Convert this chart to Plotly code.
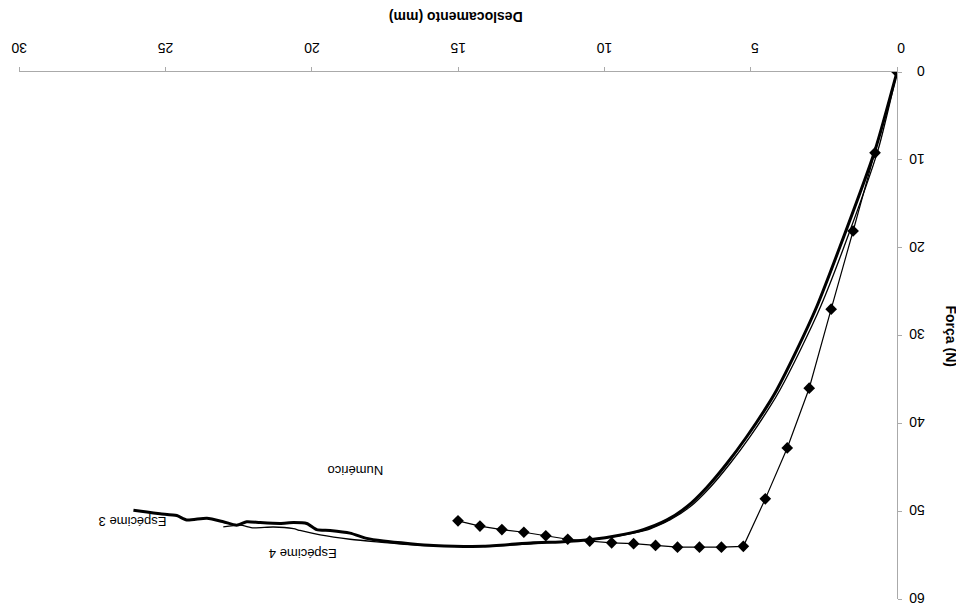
import plotly.graph_objects as go

# Numérico (model) series
num_x = [0, 0.75, 1.5, 2.25, 3.0, 3.75, 4.5, 5.25, 6.0, 6.75, 7.5, 8.25, 9.0,
         9.75, 10.5, 11.25, 12.0, 12.75, 13.5, 14.25, 15.0]
num_y = [0, 9.2, 18.1, 27.0, 36.0, 42.8, 48.6, 54.0, 54.1, 54.1, 54.1, 53.9, 53.7,
         53.6, 53.4, 53.2, 52.8, 52.4, 52.1, 51.7, 51.1]

# Espécime 3 (thick)
e3_x = [0, 0.75, 1.95, 2.74, 3.43, 4.11, 4.45, 5.13, 5.82, 6.50, 7.18, 7.86, 8.67,
        9.58, 10.38, 11.51, 12.43, 14.13, 15.84, 16.64, 17.55, 18.12, 18.69, 19.37,
        19.83, 20.17, 20.62, 21.08, 21.76, 22.22, 22.56, 23.02, 23.58, 24.27, 24.61,
        25.18, 25.63, 26.09]
e3_y = [0, 8.9, 19.9, 26.7, 31.7, 36.2, 38.1, 41.5, 44.6, 47.3, 49.5, 51.0, 52.1,
        52.8, 53.2, 53.5, 53.6, 54.0, 53.9, 53.7, 53.4, 53.1, 52.5, 52.2,
        52.1, 51.4, 51.3, 51.4, 51.3, 51.2, 51.6, 51.2, 50.8, 51.0, 50.5,
        50.3, 50.1, 49.9]

# Espécime 4 (thin)
e4_x = [0, 0.65, 1.81, 2.61, 3.31, 4.00, 4.34, 5.02, 5.71, 6.39, 7.07, 7.76, 8.6,
        9.5, 10.4, 11.51, 14.14, 16.30, 17.78, 18.69, 19.71, 20.40, 20.62, 21.31,
        21.99, 22.45, 23.02]
e4_y = [0, 8.9, 19.9, 26.7, 31.7, 36.2, 38.1, 41.5, 44.6, 47.3, 49.5, 51.0, 52.2,
        52.8, 53.2, 53.5, 54.0, 53.9, 53.5, 53.2, 52.7, 52.2, 52.0, 51.8,
        51.9, 51.6, 51.8]

x_ticks = [0, 5, 10, 15, 20, 25, 30]
y_ticks = [0, 10, 20, 30, 40, 50, 60]

fig = go.Figure()
fig.add_trace(go.Scatter(x=e4_x, y=e4_y, mode="lines", name="Espécime 4",
                         line=dict(color="black", width=1.3, shape="spline", smoothing=0.6)))
fig.add_trace(go.Scatter(x=e3_x, y=e3_y, mode="lines", name="Espécime 3",
                         line=dict(color="black", width=3, shape="spline", smoothing=0.6)))
fig.add_trace(go.Scatter(x=num_x, y=num_y, mode="lines+markers", name="Numérico",
                         line=dict(color="black", width=1.2),
                         marker=dict(symbol="diamond", size=9, color="black")))

font = dict(family="Liberation Sans, Arial, sans-serif", color="black")

# the page body adds an 8px offset, so the figure is sized/margined to compensate
fig.update_layout(
    width=956, height=605,
    paper_bgcolor="white", plot_bgcolor="white",
    showlegend=False,
    margin=dict(l=11, r=67, t=64, b=14, autoexpand=False),
    font=dict(family="Liberation Sans, Arial, sans-serif", size=14, color="black"),
    xaxis=dict(range=[30, 0], side="top", tickvals=x_ticks, ticktext=[str(v) for v in x_ticks],
               tickangle=180, showgrid=False, zeroline=False, showline=True,
               linecolor="#aaaaaa", linewidth=1, ticks="outside", ticklen=4,
               tickcolor="#aaaaaa", tickfont=dict(size=14), automargin=False,
               ticklabelstandoff=4, ticklabelshift=-8),
    yaxis=dict(range=[60, 0], side="right", tickvals=y_ticks, ticktext=[str(v) for v in y_ticks],
               tickangle=180, showgrid=False, zeroline=False, showline=True,
               linecolor="#aaaaaa", linewidth=1, ticks="outside", ticklen=4,
               tickcolor="#aaaaaa", tickfont=dict(size=14), automargin=False,
               ticklabelstandoff=20, ticklabelshift=-3),
    annotations=[
        dict(text="<b>Deslocamento (mm)</b>", xref="paper", yref="paper",
             x=0.497, y=1.0, yshift=55, xanchor="center", yanchor="middle",
             showarrow=False, textangle=180, font=dict(size=14, **font)),
        dict(text="<b>Força (N)</b>", xref="paper", yref="paper",
             x=1.0, y=0.5, xshift=54, xanchor="center", yanchor="middle",
             showarrow=False, textangle=90, font=dict(size=14, **font)),
        dict(text="Numérico", x=18.5, y=45.3, showarrow=False, textangle=180,
             xanchor="center", yanchor="middle", font=dict(size=13, **font)),
        dict(text="Espécime 3", x=26.13, y=51.25, showarrow=False, textangle=180,
             xanchor="center", yanchor="middle", font=dict(size=13, **font)),
        dict(text="Espécime 4", x=20.3, y=54.9, showarrow=False, textangle=180,
             xanchor="center", yanchor="middle", font=dict(size=13, **font)),
    ],
)

fig.write_html("out.html")
